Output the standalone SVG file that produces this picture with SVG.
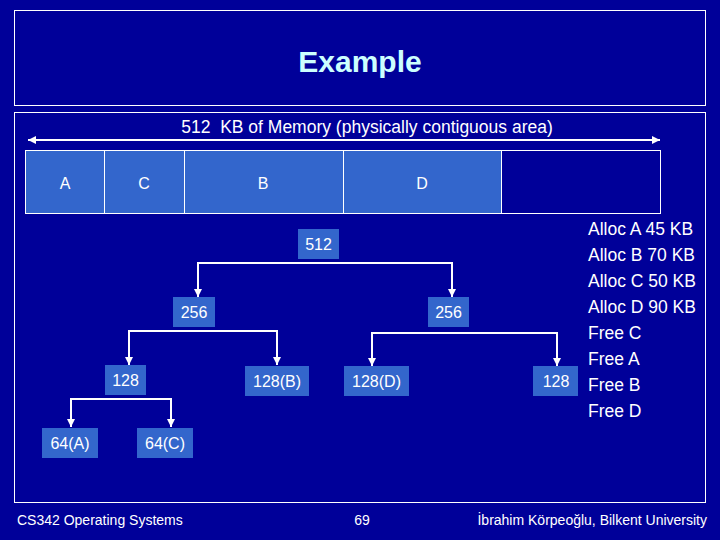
<svg xmlns="http://www.w3.org/2000/svg" width="720" height="540" viewBox="0 0 720 540">
<defs>
<marker id="ah" viewBox="0 0 10 10" refX="10" refY="5" markerWidth="4" markerHeight="4" orient="auto"><path d="M0,0L10,5L0,10z" fill="#fff"/></marker>
<marker id="as" viewBox="0 0 10 10" refX="0" refY="5" markerWidth="4" markerHeight="4" orient="auto"><path d="M10,0L0,5L10,10z" fill="#fff"/></marker>
<style>
text{font-family:"Liberation Sans",Arial,sans-serif;fill:#fff}
.b{fill:#3366cc}
.t{font-size:16px;text-anchor:middle}
.c{fill:none;stroke:#fff;stroke-width:2}
.f{font-size:14px}
</style>
</defs>
<rect width="720" height="540" fill="#000099"/>
<rect x="14.5" y="10.5" width="691" height="95" fill="none" stroke="#fff"/>
<rect x="14.5" y="112.5" width="691" height="390" fill="none" stroke="#fff"/>
<text x="360" y="72" font-size="30" font-weight="bold" text-anchor="middle" style="fill:#ccffff">Example</text>
<text x="367" y="133" font-size="17.5" text-anchor="middle" xml:space="preserve">512  KB of Memory (physically contiguous area)</text>
<line x1="28" y1="140" x2="660" y2="140" class="c" marker-start="url(#as)" marker-end="url(#ah)"/>
<g id="mem">
<rect x="25.5" y="150.5" width="476" height="63" class="b"/>
<rect x="25.5" y="150.5" width="635" height="63" fill="none" stroke="#fff"/>
<path d="M104.5 150v63M184.5 150v63M343.5 150v63M501.5 150v63" stroke="#fff"/>
<text x="65" y="189" class="t" font-size="17">A</text><text x="144" y="189" class="t">C</text><text x="263" y="189" class="t">B</text><text x="422" y="189" class="t">D</text>
</g>
<g id="connectors">
<path d="M198 297V263H452V297" class="c" marker-end="url(#ah)"/>
<path d="M198 263V297" class="c" marker-end="url(#ah)"/>
<path d="M129 365V331H277V365" class="c" marker-end="url(#ah)"/>
<path d="M129 331V365" class="c" marker-end="url(#ah)"/>
<path d="M372 366V333H557V366" class="c" marker-end="url(#ah)"/>
<path d="M372 333V366" class="c" marker-end="url(#ah)"/>
<path d="M71 427V399H171V427" class="c" marker-end="url(#ah)"/>
<path d="M71 399V427" class="c" marker-end="url(#ah)"/>
</g>
<g id="n512"><rect x="298" y="229" width="41" height="30" class="b"/><text x="318.5" y="250" class="t">512</text></g>
<g id="n256a"><rect x="173" y="297" width="42" height="30" class="b"/><text x="194" y="318" class="t">256</text></g>
<g id="n256b"><rect x="428" y="297" width="41" height="30" class="b"/><text x="448.5" y="318" class="t">256</text></g>
<g id="n128a"><rect x="105" y="365" width="41" height="30" class="b"/><text x="125.5" y="386" class="t">128</text></g>
<g id="n128b"><rect x="245" y="366" width="64" height="30" class="b"/><text x="277" y="387" class="t">128(B)</text></g>
<g id="n128d"><rect x="344" y="366" width="65" height="30" class="b"/><text x="376.5" y="387" class="t">128(D)</text></g>
<g id="n128c"><rect x="533" y="366" width="45" height="30" class="b"/><text x="556" y="387" class="t">128</text></g>
<g id="n64a"><rect x="42" y="428" width="56" height="30" class="b"/><text x="70" y="449" class="t">64(A)</text></g>
<g id="n64c"><rect x="137" y="428" width="56" height="30" class="b"/><text x="165" y="449" class="t">64(C)</text></g>
<g id="ops" font-size="17.5">
<text x="588" y="235">Alloc A 45 KB</text>
<text x="588" y="261">Alloc B 70 KB</text>
<text x="588" y="287">Alloc C 50 KB</text>
<text x="588" y="313">Alloc D 90 KB</text>
<text x="588" y="339">Free C</text>
<text x="588" y="365">Free A</text>
<text x="588" y="391">Free B</text>
<text x="588" y="417">Free D</text>
</g>
<text x="17" y="525" class="f">CS342 Operating Systems</text>
<text x="362" y="525" class="f" text-anchor="middle">69</text>
<text x="707" y="525" class="f" text-anchor="end">İbrahim Körpeoğlu, Bilkent University</text>
</svg>
